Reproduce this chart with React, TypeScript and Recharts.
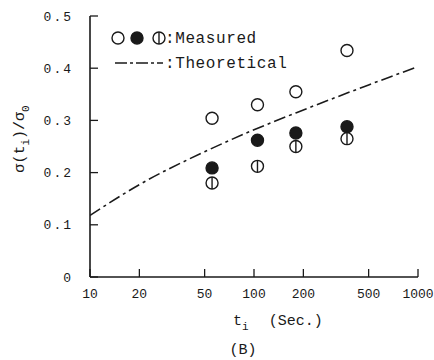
import { ComposedChart, Scatter, Line, XAxis, YAxis, Customized } from "recharts";

// t_i (sec) positions of the measurements
const times = [55.5, 105, 180, 369];
const openVals = [0.304, 0.33, 0.355, 0.434];
const filledVals = [0.209, 0.262, 0.276, 0.288];
const barredVals = [0.18, 0.212, 0.25, 0.265];

// theoretical curve
const theoT = [10, 20, 50, 100, 200, 500, 1000];
const theoV = [0.118, 0.177, 0.24, 0.282, 0.32, 0.368, 0.403];

const xTicks = [10, 20, 50, 100, 200, 500, 1000];
const yTicks = [0, 0.1, 0.2, 0.3, 0.4, 0.5];

const FONT = "'Liberation Mono', 'DejaVu Sans Mono', monospace";
const INK = "#1a1a1a";

const openData = times.map((t, i) => ({ t, v: openVals[i] }));
const filledData = times.map((t, i) => ({ t, v: filledVals[i] }));
const barredData = times.map((t, i) => ({ t, v: barredVals[i] }));
const theoData = theoT.map((t, i) => ({ t, v: theoV[i] }));

const R = 6;

const OpenDot = ({ cx, cy }: any) => <circle cx={cx} cy={cy} r={R} fill="#fff" stroke={INK} strokeWidth={1.4} />;
const FilledDot = ({ cx, cy }: any) => <circle cx={cx} cy={cy} r={R} fill={INK} stroke={INK} strokeWidth={1.4} />;
const BarredDot = ({ cx, cy }: any) => (
  <g>
    <circle cx={cx} cy={cy} r={R} fill="#fff" stroke={INK} strokeWidth={1.4} />
    <line x1={cx} y1={cy - R} x2={cx} y2={cy + R} stroke={INK} strokeWidth={1.4} />
  </g>
);

const TICK = 8;

const BottomTick = ({ x, y, payload }: any) => (
  <g>
    <line x1={x} y1={y} x2={x} y2={y - TICK} stroke={INK} strokeWidth={1.3} />
    <text x={x} y={y + 16} dy="0.35em" textAnchor="middle" fontFamily={FONT} fontSize={13} fill={INK}>
      {payload.value}
    </text>
  </g>
);
const TopTick = ({ x, y }: any) => <line x1={x} y1={y} x2={x} y2={y + TICK} stroke={INK} strokeWidth={1.3} />;
const LeftTick = ({ x, y, payload }: any) => (
  <g>
    <line x1={x} y1={y} x2={x + TICK} y2={y} stroke={INK} strokeWidth={1.3} />
    <text x={x - 17} y={y} dy="0.35em" textAnchor="end" fontFamily={FONT} fontSize={13} letterSpacing={2} fill={INK}>
      {payload.value === 0 ? "0" : payload.value.toFixed(1)}
    </text>
  </g>
);
const RightTick = ({ x, y }: any) => <line x1={x} y1={y} x2={x - TICK} y2={y} stroke={INK} strokeWidth={1.3} />;

const XLabel = ({ viewBox }: any) => {
  const { x, y } = viewBox;
  return (
    <g fontFamily={FONT} fill={INK}>
      <text x={x + 143} y={y + 48} fontSize={15}>
        t<tspan dy={5} fontSize={11}>i</tspan>
        <tspan dy={-5} dx={20}>(Sec.)</tspan>
      </text>
      <text x={x + 153} y={y + 77} fontSize={15} textAnchor="middle">(B)</text>
    </g>
  );
};

const YLabel = () => (
  <text transform="translate(24,139) rotate(-90)" textAnchor="middle" fontFamily={FONT} fontSize={15} fill={INK}>
    σ(t<tspan dy={5} fontSize={11}>i</tspan>
    <tspan dy={-5}>)/σ</tspan>
    <tspan dy={5} fontSize={11}>0</tspan>
  </text>
);

const LegendBox = () => (
  <g fontFamily={FONT} fill={INK}>
    <OpenDot cx={118} cy={38} />
    <FilledDot cx={137} cy={38} />
    <BarredDot cx={159} cy={38} />
    <text x={165} y={43} fontSize={16} letterSpacing={0.6}>:Measured</text>
    <line x1={115} y1={63} x2={163} y2={63} stroke={INK} strokeWidth={1.6} strokeDasharray="12 3 3 3" />
    <text x={165} y={68} fontSize={16} letterSpacing={0.6}>:Theoretical</text>
  </g>
);

export default function App() {
  return (
    <div style={{ position: "absolute", left: 0, top: 0, width: 434, height: 360, background: "#fff" }}>
      <ComposedChart width={434} height={360} margin={{ top: 16, right: 16, bottom: 0, left: 0 }}>
        <XAxis
          xAxisId="b"
          dataKey="t"
          type="number"
          scale="log"
          domain={[10, 1000]}
          ticks={xTicks}
          allowDataOverflow
          height={83}
          tickSize={0}
          tickMargin={0}
          tickLine={false}
          axisLine={{ stroke: INK, strokeWidth: 1.6 }}
          tick={<BottomTick />}
          interval={0}
          label={<XLabel />}
        />
        <XAxis
          xAxisId="t"
          orientation="top"
          dataKey="t"
          type="number"
          scale="log"
          domain={[10, 1000]}
          ticks={xTicks.slice(1, -1)}
          allowDataOverflow
          height={0}
          tickSize={0}
          tickMargin={0}
          tickLine={false}
          axisLine={{ stroke: INK, strokeWidth: 1.6 }}
          tick={<TopTick />}
          interval={0}
        />
        <YAxis
          yAxisId="l"
          dataKey="v"
          type="number"
          domain={[0, 0.5]}
          ticks={yTicks}
          width={90}
          tickSize={0}
          tickMargin={0}
          tickLine={false}
          axisLine={{ stroke: INK, strokeWidth: 1.6 }}
          tick={<LeftTick />}
          interval={0}
        />
        <YAxis
          yAxisId="r"
          orientation="right"
          dataKey="v"
          type="number"
          domain={[0, 0.5]}
          ticks={yTicks.slice(1, -1)}
          width={0}
          tickSize={0}
          tickMargin={0}
          tickLine={false}
          axisLine={{ stroke: INK, strokeWidth: 1.6 }}
          tick={<RightTick />}
          interval={0}
        />
        <Line
          xAxisId="b"
          yAxisId="l"
          data={theoData}
          dataKey="v"
          type="monotone"
          stroke={INK}
          strokeWidth={1.6}
          strokeDasharray="12 4 3 4"
          dot={false}
          isAnimationActive={false}
        />
        <Scatter xAxisId="b" yAxisId="l" data={openData} dataKey="v" shape={<OpenDot />} isAnimationActive={false} />
        <Scatter xAxisId="b" yAxisId="l" data={filledData} dataKey="v" shape={<FilledDot />} isAnimationActive={false} />
        <Scatter xAxisId="b" yAxisId="l" data={barredData} dataKey="v" shape={<BarredDot />} isAnimationActive={false} />
        <Customized component={<YLabel />} />
        <Customized component={<LegendBox />} />
      </ComposedChart>
    </div>
  );
}
